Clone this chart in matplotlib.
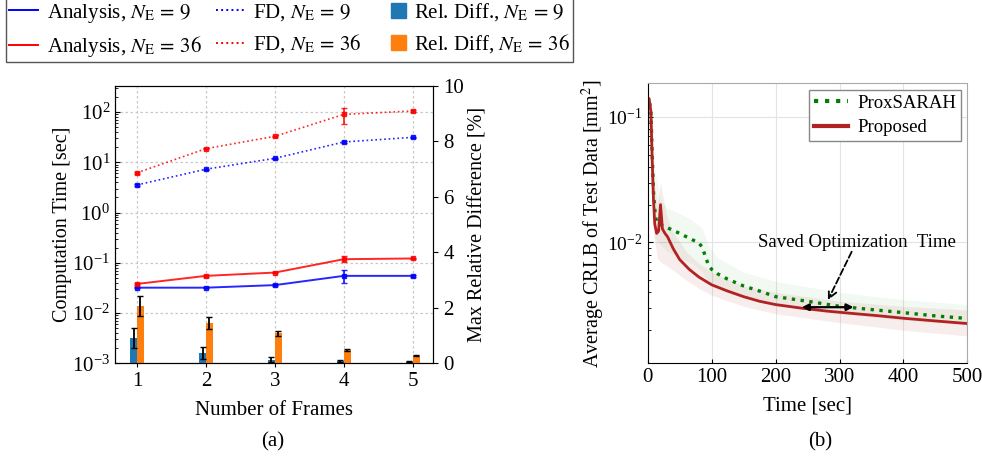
import numpy as np
import matplotlib
matplotlib.use("Agg")
from matplotlib import pyplot as plt
from matplotlib.lines import Line2D
import matplotlib.patches as mpatches
from matplotlib.legend_handler import HandlerPatch

plt.rcParams['font.family'] = ['Liberation Serif', 'DejaVu Serif']
plt.rcParams['mathtext.fontset'] = 'stix'
plt.rcParams['font.size'] = 15

##### (a) computation time vs number of frames
frames = np.array([1, 2, 3, 4, 5])

ana9 = [0.032, 0.032, 0.036, 0.055, 0.055]
ana9_lo = [0.031, 0.031, 0.034, 0.040, 0.053]
ana9_hi = [0.033, 0.033, 0.038, 0.071, 0.057]

ana36 = [0.038, 0.055, 0.064, 0.118, 0.122]
ana36_lo = [0.036, 0.053, 0.062, 0.105, 0.119]
ana36_hi = [0.040, 0.057, 0.066, 0.138, 0.125]

fd9 = [3.55, 7.3, 12.0, 25.4, 31.4]
fd9_lo = [3.45, 7.1, 11.6, 24.4, 30.6]
fd9_hi = [3.65, 7.5, 12.4, 26.4, 32.2]

fd36 = [6.2, 18.7, 32.9, 90.0, 105.0]
fd36_lo = [5.9, 18.1, 31.8, 57.0, 101.0]
fd36_hi = [6.5, 19.3, 34.0, 122.0, 109.0]

# max relative difference [%]
rel9 = [0.92, 0.37, 0.12, 0.08, 0.05]
rel9_err = [0.35, 0.22, 0.09, 0.04, 0.02]
rel36 = [2.08, 1.46, 1.08, 0.48, 0.27]
rel36_err = [0.36, 0.22, 0.08, 0.05, 0.02]

##### (b) average CRLB vs optimization time
t_prop = [0, 2, 5, 7, 9, 11, 14, 17, 20, 23, 27, 31, 40, 50, 65, 80, 100, 125,
          150, 175, 200, 240, 280, 320, 360, 400, 450, 500]
v_prop = [0.13, 0.14, 0.11, 0.045, 0.022, 0.014, 0.0118, 0.0123, 0.020, 0.0128,
          0.0118, 0.0111, 0.0089, 0.0073, 0.0061, 0.0053, 0.0046, 0.0041,
          0.0037, 0.0034, 0.0032, 0.0030, 0.00284, 0.00272, 0.00261, 0.00249,
          0.00237, 0.00226]

t_prox = [0, 2, 5, 7, 9, 12, 15, 20, 25, 35, 50, 65, 80, 85, 90, 95, 100, 110,
          125, 150, 175, 200, 250, 300, 350, 400, 450, 500]
v_prox = [0.13, 0.14, 0.11, 0.05, 0.025, 0.016, 0.0142, 0.0138, 0.0135, 0.0128,
          0.0118, 0.0108, 0.0099, 0.0092, 0.0078, 0.0066, 0.0061, 0.0056,
          0.0051, 0.0045, 0.0041, 0.0037, 0.0034, 0.0031, 0.00292, 0.00276,
          0.0026, 0.00248]

# spread of the individual test runs
t_band_prop = [0, 5, 10, 15, 20, 30, 40, 60, 80, 100, 150, 200, 300, 400, 500]
lo_prop = [0.11, 0.05, 0.011, 0.0075, 0.0070, 0.0065, 0.0060, 0.0050, 0.0043,
           0.0038, 0.0031, 0.0027, 0.0023, 0.0020, 0.0018]
hi_prop = [0.15, 0.13, 0.030, 0.020, 0.030, 0.016, 0.012, 0.0085, 0.0068,
           0.0058, 0.0045, 0.0040, 0.0034, 0.0031, 0.0029]

t_band_prox = [5, 10, 20, 30, 50, 70, 85, 95, 110, 150, 200, 300, 400, 500]
lo_prox = [0.03, 0.011, 0.0095, 0.0085, 0.0075, 0.0068, 0.0058, 0.0048, 0.0042,
           0.0036, 0.0031, 0.0027, 0.0024, 0.0022]
hi_prox = [0.12, 0.04, 0.022, 0.019, 0.017, 0.015, 0.013, 0.0095, 0.0075,
           0.0058, 0.0049, 0.0040, 0.0035, 0.0032]

fig = plt.figure(figsize=(9.82, 4.57), dpi=100)
ax = fig.add_axes([0.1171, 0.205, 0.3243, 0.6068])
ax2 = ax.twinx()

grid_kw = dict(color='#c8c8c8', linestyle=(0, (2, 2)), linewidth=0.9)

def err(v, lo, hi):
    v = np.asarray(v); return [v - np.asarray(lo), np.asarray(hi) - v]

line_kw = dict(marker='s', ms=2.2, capsize=2, elinewidth=1.3, alpha=0.85)
ax.errorbar(frames, ana9, yerr=err(ana9, ana9_lo, ana9_hi), color='blue', lw=1.4, **line_kw)
ax.errorbar(frames, ana36, yerr=err(ana36, ana36_lo, ana36_hi), color='red', lw=1.4, **line_kw)
ax.errorbar(frames, fd9, yerr=err(fd9, fd9_lo, fd9_hi), color='blue', lw=1.2, ls=':', **line_kw)
ax.errorbar(frames, fd36, yerr=err(fd36, fd36_lo, fd36_hi), color='red', lw=1.2, ls=':', **line_kw)

w = 0.1
ax2.bar(frames - w / 2, rel9, w, yerr=rel9_err, color='#1f77b4', capsize=2,
        error_kw=dict(elinewidth=1.3, ecolor='black'))
ax2.bar(frames + w / 2, rel36, w, yerr=rel36_err, color='#ff7f0e', capsize=2,
        error_kw=dict(elinewidth=1.3, ecolor='black'))

ax.set_yscale('log')
ax.set_ylim(1e-3, 330)
ax.set_xlim(0.68, 5.3)
ax.set_xticks(frames)
ax2.set_ylim(0, 10)
ax2.set_yticks([0, 2, 4, 6, 8, 10])
ax.grid(True, which='major', **grid_kw)
ax.set_axisbelow(True)
ax.tick_params(axis='y', which='both', direction='in', left=True)
ax.tick_params(axis='y', which='minor', length=2)
ax.tick_params(axis='x', length=3)
ax.set_xlabel('Number of Frames', labelpad=7)
ax.set_ylabel('Computation Time [sec]', fontsize=14.5)
ax.yaxis.set_label_coords(-0.135, 0.5)
ax2.set_ylabel('Max Relative Difference [%]', labelpad=3, fontsize=14.5)

# square swatches for the bar entries
def square_patch(legend, orig_handle, xdescent, ydescent, width, height, fontsize):
    s = 0.72 * fontsize
    return mpatches.Rectangle((-xdescent + width - s, -ydescent + height / 2 - s / 2), s, s)

sq9 = mpatches.Patch(color='#1f77b4')
sq36 = mpatches.Patch(color='#ff7f0e')
handles = [
    Line2D([], [], color='blue', lw=1.4),
    Line2D([], [], color='red', lw=1.4),
    Line2D([], [], color='blue', lw=1.4, ls=':'),
    Line2D([], [], color='red', lw=1.4, ls=':'),
    sq9, sq36,
]
labels = [r'Analysis, $N_\mathrm{E}\,=\,9$', r'Analysis, $N_\mathrm{E}\,=\,36$',
          r'FD, $N_\mathrm{E}\,=\,9$', r'FD, $N_\mathrm{E}\,=\,36$',
          r'Rel. Diff., $N_\mathrm{E}\,=\,9$', r'Rel. Diff, $N_\mathrm{E}\,=\,36$']
leg = fig.legend(handles, labels, ncol=3, loc='upper left', bbox_to_anchor=(0.006, 1.004),
                 borderaxespad=0, fancybox=False, edgecolor='#555555', framealpha=1,
                 handlelength=1.4, columnspacing=0.7, handletextpad=0.4, borderpad=0.15,
                 labelspacing=0.45,
                 handler_map={sq9: HandlerPatch(patch_func=square_patch),
                              sq36: HandlerPatch(patch_func=square_patch)})
leg.get_frame().set_linewidth(1.0)

##### (b)
bx = fig.add_axes([0.6596, 0.205, 0.3255, 0.6127])
bx.fill_between(t_band_prox, lo_prox, hi_prox, color='green', alpha=0.05, lw=0)
bx.fill_between(t_band_prop, lo_prop, hi_prop, color='#b22222', alpha=0.08, lw=0)
bx.plot(t_prox, v_prox, color='green', lw=2.4, ls=':', label='ProxSARAH')
bx.plot(t_prop, v_prop, color='#b22222', lw=2.0, label='Proposed')
bx.set_yscale('log')
bx.set_xlim(0, 500)
bx.set_ylim(1.09e-3, 0.185)
bx.grid(True, which='major', color='#e3e3e3', lw=0.8)
bx.set_axisbelow(True)
bx.tick_params(axis='y', which='both', direction='in', labelsize=14)
bx.tick_params(axis='y', which='minor', length=2)
bx.tick_params(axis='x', direction='in', length=3)
for side in ['top', 'right']:
    bx.spines[side].set_color('#aaaaaa')
bx.set_xlabel('Time [sec]', labelpad=7)
bx.set_ylabel('Average CRLB of Test Data [mm$^2$]', fontsize=14.5)
bx.yaxis.set_label_coords(-0.128, 0.5)

bleg = bx.legend(loc='upper right', fancybox=False, edgecolor='#888888', framealpha=1,
                 fontsize=13.5, handlelength=1.8, handletextpad=0.5, borderpad=0.25,
                 labelspacing=0.4, borderaxespad=0.35)
for ln in bleg.get_lines():
    ln.set_linewidth(3)

bx.annotate('', xy=(241, 0.00305), xytext=(322, 0.00305),
            arrowprops=dict(arrowstyle='<|-|>', color='black', lw=1.6,
                            mutation_scale=10, shrinkA=0, shrinkB=0))
bx.annotate('', xy=(282, 0.00348), xytext=(319, 0.00843),
            arrowprops=dict(arrowstyle='->', color='black', lw=1.3, ls='--',
                            shrinkA=0, shrinkB=0))
bx.text(327, 0.0099, 'Saved Optimization  Time', ha='center', va='center', fontsize=13.5)

fig.text(0.278, 0.034, '(a)', ha='center', va='center', fontsize=15)
fig.text(0.835, 0.034, '(b)', ha='center', va='center', fontsize=15)

fig.savefig('out.png', dpi=100)
